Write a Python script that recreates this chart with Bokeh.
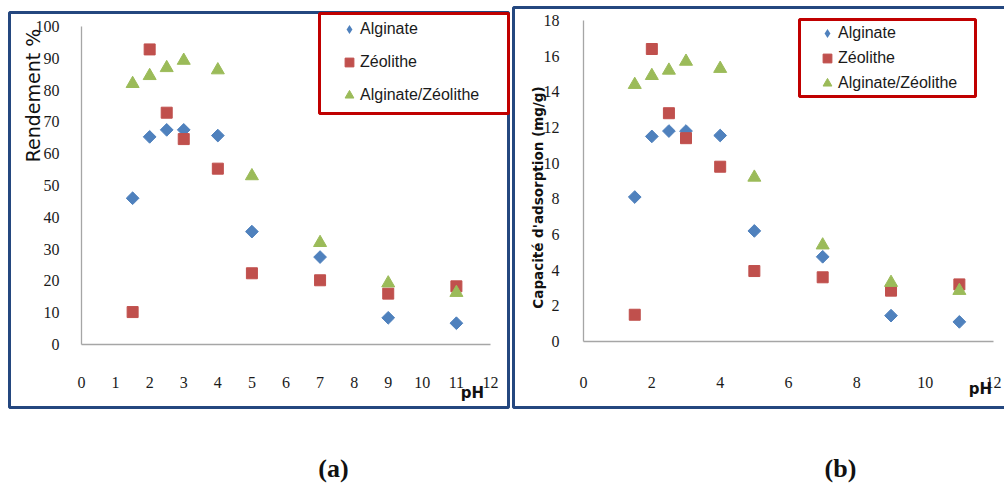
import math
from bokeh.plotting import figure
from bokeh.layouts import row
from bokeh.models import (Range1d, FixedTicker, Legend, LegendItem, Label,
                          BoxAnnotation)
from bokeh.embed import file_html
from bokeh.resources import INLINE

# ---------------- data ----------------
ph = [1.5, 2, 2.5, 3, 4, 5, 7, 9, 11]

# (a) Rendement %
rend_alginate = [46, 65.3, 67.5, 67.5, 65.7, 35.5, 27.5, 8.4, 6.7]
rend_zeolithe = [10.2, 92.8, 72.9, 64.6, 55.3, 22.4, 20.2, 16, 18.3]
rend_alg_zeo = [82, 84.5, 87, 89.3, 86.3, 53, 32, 19.3, 16.3]

# (b) Capacité d'adsorption (mg/g)
cap_alginate = [8.1, 11.5, 11.8, 11.8, 11.55, 6.2, 4.75, 1.45, 1.1]
cap_zeolithe = [1.5, 16.4, 12.8, 11.4, 9.8, 3.95, 3.6, 2.85, 3.2]
cap_alg_zeo = [14.4, 14.9, 15.2, 15.7, 15.3, 9.2, 5.4, 3.3, 2.85]

series_names = ["Alginate", "Zéolithe", "Alginate/Zéolithe"]
x_ticks_a = list(range(0, 13))
y_ticks_a = list(range(0, 101, 10))
x_ticks_b = list(range(0, 13, 2))
y_ticks_b = list(range(0, 19, 2))

BLUE = "#4F81BD"
RED = "#C0504D"
GREEN = "#9BBB59"
NAVY = "#24477F"
LEGEND_RED = "#C00000"
AXIS_GRAY = "#A6A6A6"

TICK_FONT = "Liberation Serif"
LEG_FONT = "Liberation Sans"


def canvas_box(left, right, top, bottom, color, width):
    return BoxAnnotation(left=left, right=right, top=top, bottom=bottom,
                         left_units="canvas", right_units="canvas",
                         top_units="canvas", bottom_units="canvas",
                         fill_color=None, fill_alpha=0, line_color=color,
                         line_alpha=1, line_width=width)


def canvas_label(x, y, text, size, font, bold=False, angle=0.0):
    return Label(x=x, y=y, x_units="canvas", y_units="canvas", text=text,
                 angle=angle, text_align="center", text_baseline="middle",
                 text_font=font, text_font_size=size,
                 text_font_style="bold" if bold else "normal",
                 text_color="#111111")


def make_panel(width, height, xr, yr, xb, yb, xt, yt, ys, y_std, x_std):
    p = figure(width=width, height=height, output_backend="svg",
               toolbar_location=None, x_range=Range1d(*xr),
               y_range=Range1d(*yr), min_border=0)
    p.outline_line_color = None
    p.grid.visible = False
    p.background_fill_color = "white"
    p.border_fill_color = "white"
    for ax, bnd, tk, std in ((p.xaxis[0], xb, xt, x_std),
                             (p.yaxis[0], yb, yt, y_std)):
        ax.fixed_location = 0
        ax.bounds = bnd
        ax.ticker = FixedTicker(ticks=tk)
        ax.axis_line_color = AXIS_GRAY
        ax.axis_line_width = 1.3
        ax.major_tick_line_color = None
        ax.minor_tick_line_color = None
        ax.major_label_text_font = TICK_FONT
        ax.major_label_text_font_size = "16px"
        ax.major_label_text_color = "#1a1a1a"
        ax.major_label_standoff = std
    a = p.scatter(ph, ys[0], marker="square", angle=math.pi / 4, size=9,
                  fill_color=BLUE, line_color=BLUE)
    # legend proxy (size 0, not visible in plot) so legend shows a diamond
    a_leg = p.scatter(ph, ys[0], marker="diamond", size=0,
                      fill_color=BLUE, line_color=None)
    s = p.scatter(ph, ys[1], marker="square", size=11,
                  fill_color=RED, line_color=RED)
    t = p.scatter(ph, ys[2], marker="triangle", size=13,
                  fill_color=GREEN, line_color=GREEN)
    return p, [a_leg, s, t]


def make_legend(renderers, loc, spacing):
    return Legend(items=[LegendItem(label=n, renderers=[r])
                         for n, r in zip(series_names, renderers)],
                  location=loc, orientation="vertical",
                  border_line_color=None, background_fill_alpha=0,
                  padding=0, margin=0, spacing=spacing, glyph_width=22,
                  glyph_height=22, label_height=22, label_standoff=0,
                  label_text_font=LEG_FONT, label_text_font_size="16px",
                  label_text_color="#1a1a1a")


# ---------------- panel (a) ----------------
pa, ra = make_panel(511, 486, (-2.377, 12.617), (-44.65, 108.18),
                    (0, 12), (0, 100), x_ticks_a, y_ticks_a,
                    [rend_alginate, rend_zeolithe, rend_alg_zeo], 16, 26)
pa.add_layout(canvas_box(9, 508, 12, 407, NAVY, 3))
pa.add_layout(canvas_box(319, 508, 13, 113, LEGEND_RED, 3))
pa.add_layout(make_legend(ra, (338, 380), 11))
pa.add_layout(canvas_label(32, 95, "Rendement %", "19px", "DejaVu Sans",
                           angle=math.pi / 2))
pa.add_layout(canvas_label(472, 392, "pH", "15px", "DejaVu Sans", bold=True))
pa.add_layout(canvas_label(333, 468, "(a)", "26px", "Liberation Serif",
                           bold=True))

# ---------------- panel (b) ----------------
pb, rb = make_panel(493, 486, (-2.107, 12.321), (-8.131, 19.12),
                    (0, 12), (0, 18), x_ticks_b, y_ticks_b,
                    [cap_alginate, cap_zeolithe, cap_alg_zeo], 18, 30)
pb.add_layout(canvas_box(2, 498, 7, 407, NAVY, 3))
pb.add_layout(canvas_box(288, 464, 19, 96, LEGEND_RED, 3))
pb.add_layout(make_legend(rb, (305, 392), 3))
pb.add_layout(canvas_label(26, 197, "Capacité d'adsorption (mg/g)", "13.5px",
                           "DejaVu Sans", bold=True, angle=math.pi / 2))
pb.add_layout(canvas_label(469, 388, "pH", "15px", "DejaVu Sans", bold=True))
pb.add_layout(canvas_label(329, 468, "(b)", "26px", "Liberation Serif",
                           bold=True))

layout = row(pa, pb, spacing=0)
open("out.html", "w").write(file_html(layout, INLINE))
